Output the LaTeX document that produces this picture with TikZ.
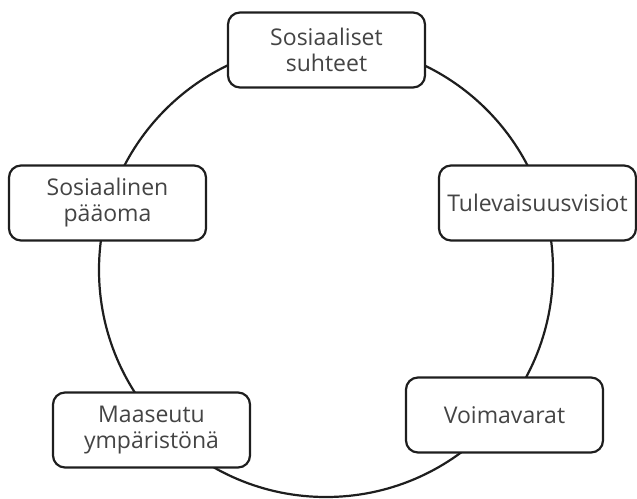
\documentclass[tikz,border=0pt]{standalone}
\usepackage{fontspec}
\setmainfont{Open Sans}
\definecolor{txtgray}{HTML}{444444}
\definecolor{linedark}{HTML}{1E1E1E}
\begin{document}
\begin{tikzpicture}[x=1pt,y=-1pt,
  topicbox/.style={draw=linedark, line width=2.2pt, rounded corners=12pt, fill=white,
    minimum width=197pt, minimum height=75pt, inner sep=0pt, align=center,
    text=txtgray, font=\fontsize{23}{26}\selectfont},
  ring/.style={draw=linedark, line width=2.2pt}]
\useasboundingbox (0,0) rectangle (637,498);
\clip (0,0) rectangle (637,498);
\coordinate (c) at (326,270);
\draw[ring] (c) circle[radius=227pt];
\node[topicbox] (sos) at (326.5,50) {Sosiaaliset\\suhteet};
\node[topicbox] (paa) at (107.5,203) {Sosiaalinen\\pääoma};
\node[topicbox] (tul) at (537.5,203) {Tulevaisuusvisiot};
\node[topicbox] (maa) at (151.5,430) {Maaseutu\\ympäristönä};
\node[topicbox] (voi) at (504.5,415) {Voimavarat};
\end{tikzpicture}
\end{document}
